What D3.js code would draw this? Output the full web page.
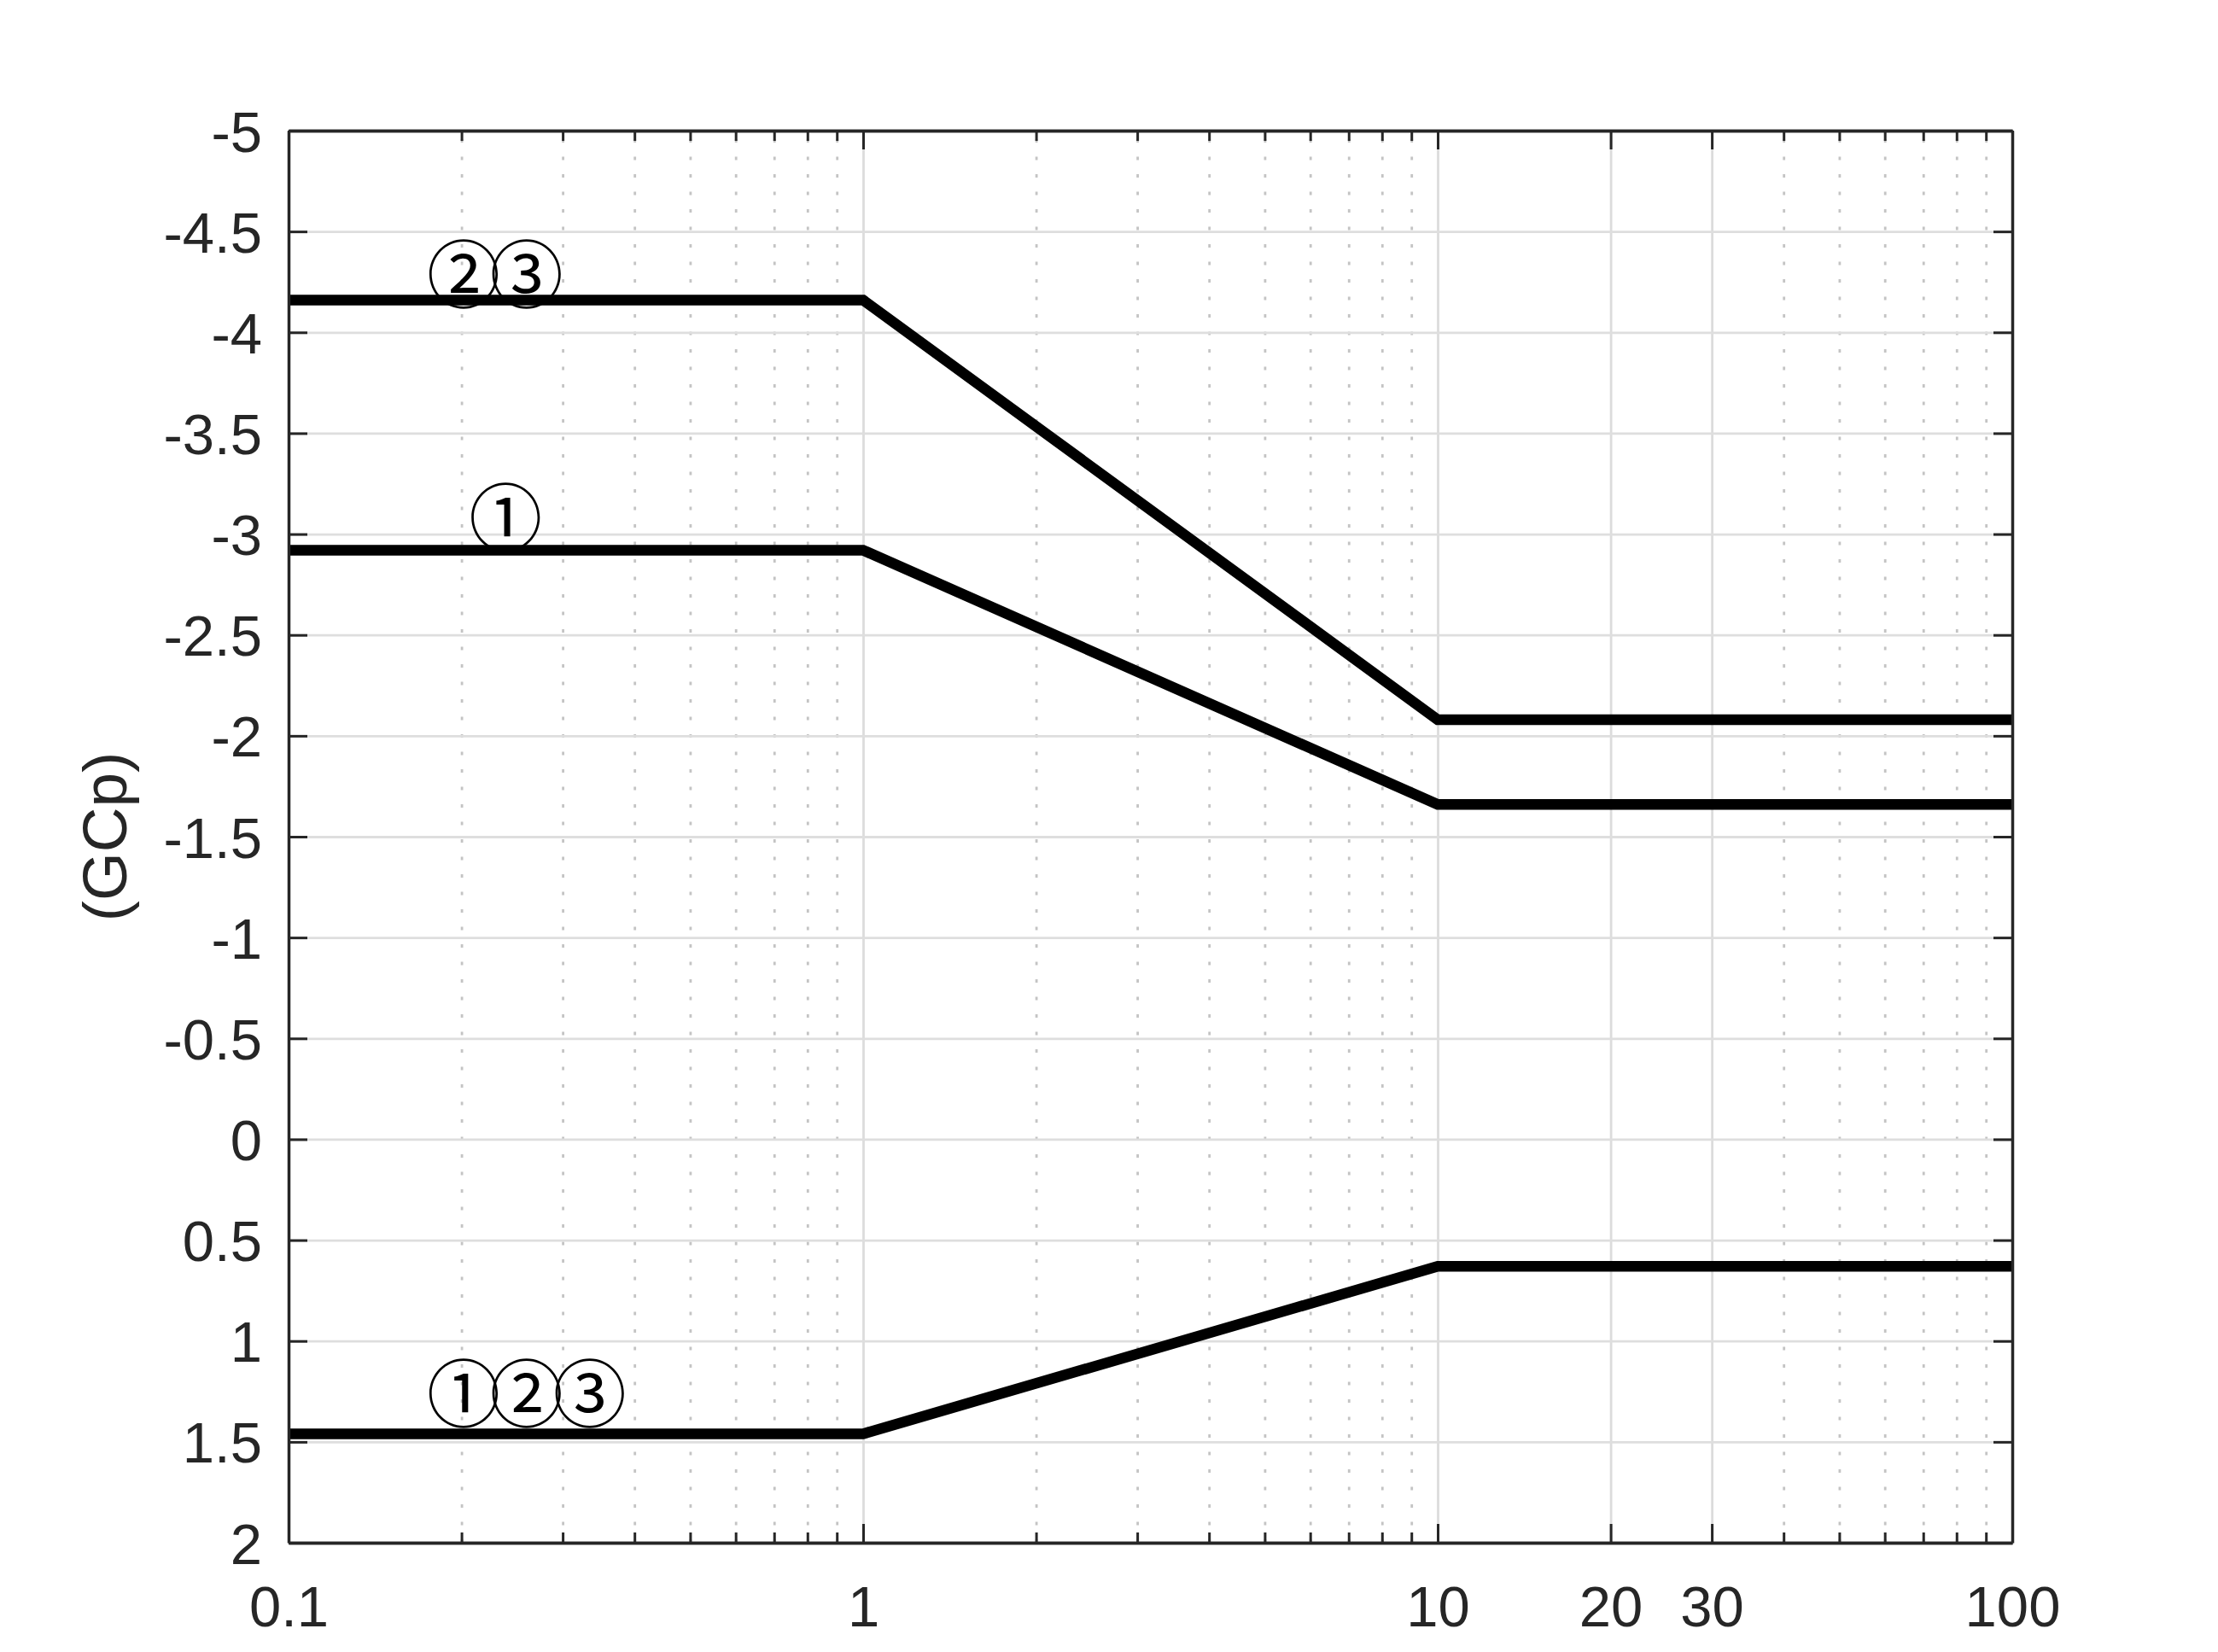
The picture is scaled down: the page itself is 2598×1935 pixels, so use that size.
<!DOCTYPE html>
<html>
<head>
<meta charset="utf-8">
<script src="https://cdn.jsdelivr.net/npm/d3@7"></script>
<style>
  body { margin: 0; background: #fff; }
  .tick-label text { font-family: "Liberation Sans", Arial, sans-serif; fill: #262626; }
</style>
</head>
<body>
<svg id="chart"></svg>
<script>
// Data (x on log axis, y reversed)
const xBreaks = [0.1, 1, 10, 100];
const zone23 = [-4.16, -4.16, -2.08, -2.08];
const zone1 = [-2.92, -2.92, -1.66, -1.66];
const zoneAll = [1.46, 1.46, 0.63, 0.63];

const xMajorTicks = [0.1, 1, 10, 20, 30, 100];
const xMinorTicks = [0.2, 0.3, 0.4, 0.5, 0.6, 0.7, 0.8, 0.9,
  2, 3, 4, 5, 6, 7, 8, 9, 40, 50, 60, 70, 80, 90];
const yTicks = [-5, -4.5, -4, -3.5, -3, -2.5, -2, -1.5, -1, -0.5, 0, 0.5, 1, 1.5, 2];

const labelTexts = ['②③', '①', '①②③'];
const labelX = [0.174, 0.206, 0.174];
const labelY = [-4.31, -3.1, 1.24];

// Layout
const WIDTH = 2598;
const HEIGHT = 1935;
const LEFT = 338;
const RIGHT = 2357;
const TOP = 153;
const BOTTOM = 1807;
const MAJOR_TICK = 22;
const MINOR_TICK = 12;
const AXIS_COLOR = '#262626';
const TICK_FONT = 67;

const translate = (x, y) => `translate(${x}, ${y})`;
// plain hyphen for negatives, like the reference
const tickText = d => String(d);

const svg = d3.select('#chart')
  .attr('width', WIDTH)
  .attr('height', HEIGHT);

svg.append('rect')
  .attr('width', WIDTH)
  .attr('height', HEIGHT)
  .attr('fill', '#fff');

const x = d3.scaleLog().domain([0.1, 100]).range([LEFT, RIGHT]);
const y = d3.scaleLinear().domain([-5, 2]).range([TOP, BOTTOM]);

const plotW = RIGHT - LEFT;
const plotH = BOTTOM - TOP;

// grid: minor dotted verticals
svg.append('g')
  .attr('transform', translate(0, BOTTOM))
  .call(d3.axisBottom(x).tickValues(xMinorTicks).tickSize(-plotH).tickFormat(''))
  .call(g => g.select('.domain').remove())
  .call(g => g.selectAll('line')
    .attr('stroke', '#c4c4c4')
    .attr('stroke-width', 2.8)
    .attr('stroke-dasharray', '4,16.5'));

// grid: major verticals
svg.append('g')
  .attr('transform', translate(0, BOTTOM))
  .call(d3.axisBottom(x).tickValues(xMajorTicks).tickSize(-plotH).tickFormat(''))
  .call(g => g.select('.domain').remove())
  .call(g => g.selectAll('line')
    .attr('stroke', '#dcdcdc')
    .attr('stroke-width', 2.8));

// grid: horizontals
svg.append('g')
  .attr('transform', translate(LEFT, 0))
  .call(d3.axisLeft(y).tickValues(yTicks).tickSize(-plotW).tickFormat(''))
  .call(g => g.select('.domain').remove())
  .call(g => g.selectAll('line')
    .attr('stroke', '#dedede')
    .attr('stroke-width', 2.8));

// data lines
const line = d3.line()
  .x((d, i) => x(xBreaks[i]))
  .y(d => y(d));

[zone23, zone1, zoneAll].forEach(series => {
  svg.append('path')
    .datum(series)
    .attr('d', line)
    .attr('fill', 'none')
    .attr('stroke', '#000')
    .attr('stroke-width', 12.5)
    .attr('stroke-linejoin', 'miter');
});

// annotations
svg.append('g')
  .selectAll('text')
  .data(labelTexts)
  .enter()
  .append('text')
  .attr('x', (d, i) => x(labelX[i]))
  .attr('y', (d, i) => y(labelY[i]))
  .attr('dominant-baseline', 'central')
  .attr('font-family', '"Noto Sans CJK JP", "Noto Sans CJK SC", sans-serif')
  .attr('font-size', 86)
  .attr('letter-spacing', -12)
  .attr('fill', '#000')
  .text(d => d);

// axes
const styleAxis = g => {
  g.selectAll('line').attr('stroke', AXIS_COLOR).attr('stroke-width', 3);
  g.select('.domain').attr('stroke', AXIS_COLOR).attr('stroke-width', 3.5);
};

const bottomAxis = svg.append('g')
  .attr('class', 'tick-label')
  .attr('transform', translate(0, BOTTOM))
  .call(d3.axisBottom(x)
    .tickValues(xMajorTicks)
    .tickSizeInner(-MAJOR_TICK)
    .tickSizeOuter(0)
    .tickPadding(50)
    .tickFormat(tickText))
  .call(styleAxis);
bottomAxis.selectAll('text').attr('font-size', TICK_FONT);

svg.append('g')
  .attr('transform', translate(0, BOTTOM))
  .call(d3.axisBottom(x).tickValues(xMinorTicks).tickSizeInner(-MINOR_TICK).tickSizeOuter(0).tickFormat(''))
  .call(styleAxis);

svg.append('g')
  .attr('transform', translate(0, TOP))
  .call(d3.axisTop(x).tickValues(xMajorTicks).tickSizeInner(-MAJOR_TICK).tickSizeOuter(0).tickFormat(''))
  .call(styleAxis);

svg.append('g')
  .attr('transform', translate(0, TOP))
  .call(d3.axisTop(x).tickValues(xMinorTicks).tickSizeInner(-MINOR_TICK).tickSizeOuter(0).tickFormat(''))
  .call(styleAxis);

const leftAxis = svg.append('g')
  .attr('class', 'tick-label')
  .attr('transform', translate(LEFT, 0))
  .call(d3.axisLeft(y)
    .tickValues(yTicks)
    .tickSizeInner(-MAJOR_TICK)
    .tickSizeOuter(0)
    .tickPadding(31)
    .tickFormat(tickText))
  .call(styleAxis);
leftAxis.selectAll('text').attr('font-size', TICK_FONT).attr('dy', '0.36em');

svg.append('g')
  .attr('transform', translate(RIGHT, 0))
  .call(d3.axisRight(y).tickValues(yTicks).tickSizeInner(-MAJOR_TICK).tickSizeOuter(0).tickFormat(''))
  .call(styleAxis);

// y label
svg.append('text')
  .attr('transform', `${translate(148, (TOP + BOTTOM) / 2)} rotate(-90)`)
  .attr('text-anchor', 'middle')
  .attr('font-family', '"Liberation Sans", Arial, sans-serif')
  .attr('font-size', 73)
  .attr('fill', AXIS_COLOR)
  .text('(GCp)');
</script>
</body>
</html>
